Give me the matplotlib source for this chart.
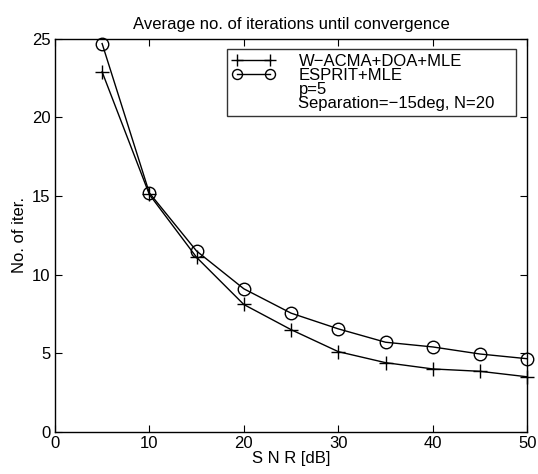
import matplotlib
matplotlib.use("Agg")
import matplotlib.pyplot as plt
from matplotlib.lines import Line2D

plt.rcParams['font.family'] = ['Liberation Sans', 'DejaVu Sans']

snr = [5, 10, 15, 20, 25, 30, 35, 40, 45, 50]
wacma = [22.9, 15.1, 11.1, 8.1, 6.5, 5.1, 4.4, 4.0, 3.85, 3.5]
esprit = [24.7, 15.2, 11.5, 9.1, 7.55, 6.55, 5.7, 5.4, 4.95, 4.65]
extra_labels = ['p=5', 'Separation=\u221215deg, N=20']

fig = plt.figure(figsize=(5.38, 4.74), dpi=100)
ax = fig.add_axes([0.102, 0.089, 0.878, 0.829])

ax.plot(snr, wacma, color='black', lw=1.0, marker='+', ms=10, mew=1.0,
        label='W\u2212ACMA+DOA+MLE', clip_on=False)
ax.plot(snr, esprit, color='black', lw=1.0, marker='o', ms=9, mew=1.0,
        mfc='none', label='ESPRIT+MLE', clip_on=False)

ax.set_xlim(0, 50)
ax.set_ylim(0, 25)
ax.set_xticks([0, 10, 20, 30, 40, 50])
ax.set_yticks([0, 5, 10, 15, 20, 25])
ax.tick_params(direction='in', top=True, right=True, length=5, labelsize=12, pad=3)
for s in ax.spines.values():
    s.set_linewidth(1.0)

ax.set_title('Average no. of iterations until convergence', fontsize=12, pad=7)
ax.set_xlabel('S N R [dB]', fontsize=12, labelpad=0)
ax.set_ylabel('No. of iter.', fontsize=12, labelpad=4)

handles, labels = ax.get_legend_handles_labels()
for t in extra_labels:
    handles.append(Line2D([], [], linestyle='none'))
    labels.append(t)
leg = ax.legend(handles, labels, loc='upper left', bbox_to_anchor=(0.364, 0.975, 0.612, 0.0),
                mode='expand',
                fontsize=12, frameon=True, fancybox=False, edgecolor='black',
                numpoints=2, markerscale=0.8,
                handlelength=2.6, handletextpad=1.4, labelspacing=-0.05,
                borderpad=0.3, borderaxespad=0.0)
leg.get_frame().set_linewidth(1.0)

fig.savefig('out.png', dpi=100)
